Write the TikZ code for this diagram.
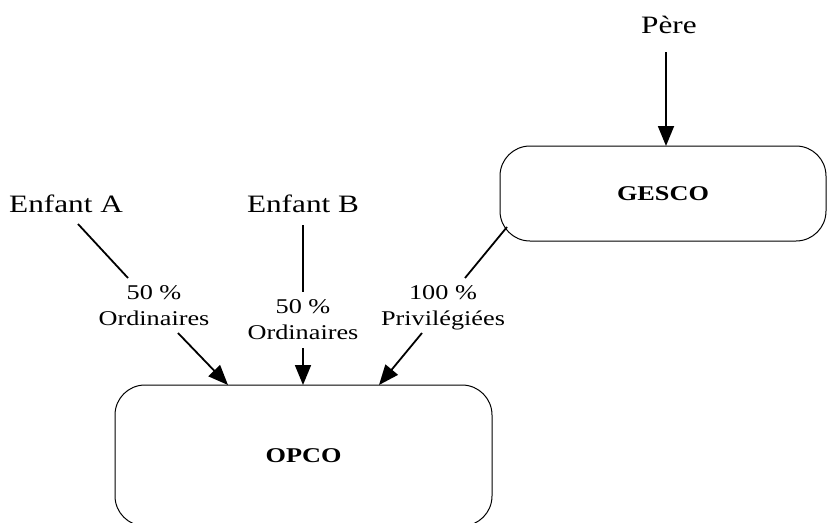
\documentclass[tikz,border=0pt]{standalone}
\usepackage{fontspec}
\setmainfont{Liberation Serif}[FakeStretch=1.25]
\usetikzlibrary{arrows.meta}
\begin{document}
\begin{tikzpicture}[x=1pt,y=-1pt,
  box/.style={draw, line width=1pt, rounded corners=30pt, inner sep=0pt},
  person/.style={font=\fontsize{25}{30}\selectfont, anchor=base, inner sep=0pt},
  company/.style={box, font=\fontsize{21}{25}\selectfont\bfseries},
  share/.style={font=\fontsize{21}{26}\selectfont, align=center, anchor=base, inner sep=0pt},
  link/.style={line width=1.8pt},
  flow/.style={link, -{Triangle[length=20pt,width=16pt]}}]
\useasboundingbox (0,0) rectangle (827,522);
\clip (0,0) rectangle (827,522);

% companies
\node[company, minimum width=326pt, minimum height=95pt] (gesco) at (663,193.5) {GESCO};
\node[company, minimum width=377pt, minimum height=141pt] (opco) at (303.5,455.5) {OPCO};

% shareholders
\node[person] (pere) at (669,33) {Père};
\node[person] (enfa) at (66,212) {Enfant A};
\node[person] (enfb) at (303,212) {Enfant B};

% share labels (base = baseline of the last line)
\node[share] (laba) at (154,325) {50~\%\\Ordinaires};
\node[share] (labb) at (303,339) {50~\%\\Ordinaires};
\node[share] (labg) at (443,325) {100~\%\\Privilégiées};

% connector end points
\coordinate (pere-out) at (666,52);
\coordinate (gesco-in) at (666,146);
\coordinate (enfa-out) at (78,224);
\coordinate (laba-in) at (128,278);
\coordinate (laba-out) at (178,333);
\coordinate (opco-a) at (228,385);
\coordinate (enfb-out) at (303,225);
\coordinate (labb-in) at (303,292);
\coordinate (labb-out) at (303,348);
\coordinate (opco-b) at (303,385);
\coordinate (gesco-out) at (507,227);
\coordinate (labg-in) at (465,278);
\coordinate (labg-out) at (422,333);
\coordinate (opco-g) at (379,385);

% holdings
\draw[flow] (pere-out) -- (gesco-in);
\draw[link] (enfa-out) -- (laba-in);
\draw[flow] (laba-out) -- (opco-a);
\draw[link] (enfb-out) -- (labb-in);
\draw[flow] (labb-out) -- (opco-b);
\draw[link] (gesco-out) -- (labg-in);
\draw[flow] (labg-out) -- (opco-g);
\end{tikzpicture}
\end{document}
